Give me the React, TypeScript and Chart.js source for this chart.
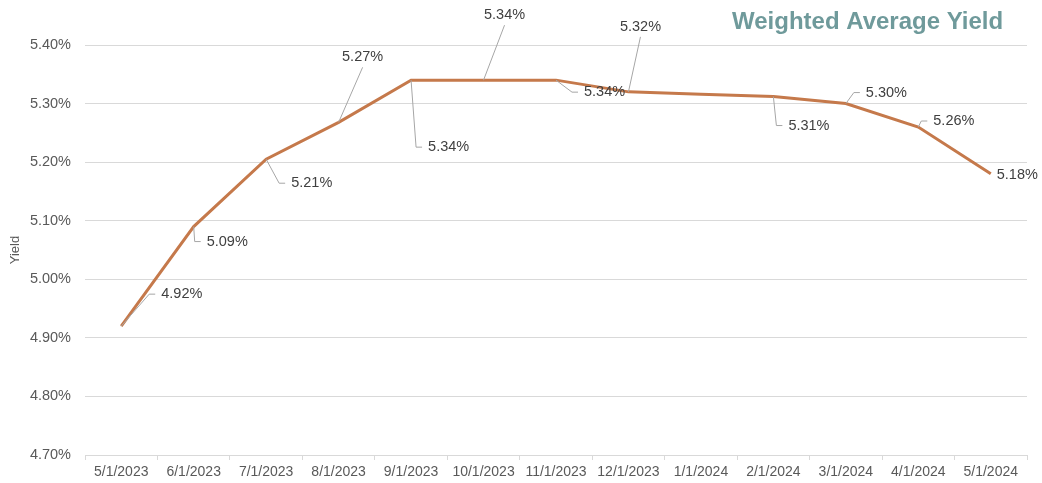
import React, { useEffect, useRef } from "react";
import { Chart, registerables } from "chart.js";

Chart.register(...registerables);

const categories = [
  "5/1/2023", "6/1/2023", "7/1/2023", "8/1/2023", "9/1/2023", "10/1/2023", "11/1/2023",
  "12/1/2023", "1/1/2024", "2/1/2024", "3/1/2024", "4/1/2024", "5/1/2024",
];
const yieldValues = [4.92, 5.09, 5.205, 5.268, 5.34, 5.34, 5.34, 5.32, 5.316, 5.312, 5.3, 5.26, 5.18];
const dataLabels = ["4.92%", "5.09%", "5.21%", "5.27%", "5.34%", "5.34%", "5.34%", "5.32%", "", "5.31%", "5.30%", "5.26%", "5.18%"];
const yTickMin = 4.7;
const yTickMax = 5.4;
const yTickStep = 0.1;
const chartTitle = "Weighted Average Yield";
const yAxisTitle = "Yield";

// label placement relative to each point: kind, dx, dy, leader
type LabelPlace = { kind: "left" | "top" | "none"; dx: number; dy: number; leader: boolean };
const labelPlacement: LabelPlace[] = [
  { kind: "left", dx: 40, dy: -32, leader: true },
  { kind: "left", dx: 13, dy: 15, leader: true },
  { kind: "left", dx: 25, dy: 24, leader: true },
  { kind: "top", dx: 24, dy: -65, leader: true },
  { kind: "left", dx: 17, dy: 67, leader: true },
  { kind: "top", dx: 21, dy: -65, leader: true },
  { kind: "left", dx: 28, dy: 12, leader: true },
  { kind: "top", dx: 12, dy: -65, leader: true },
  { kind: "none", dx: 0, dy: 0, leader: false },
  { kind: "left", dx: 15, dy: 29, leader: true },
  { kind: "left", dx: 20, dy: -11, leader: true },
  { kind: "left", dx: 15, dy: -6, leader: true },
  { kind: "left", dx: 6, dy: 1, leader: false },
];

const FONT = "'Liberation Sans', Arial, Helvetica, sans-serif";

const labelPlugin = {
  id: "leaderLabels",
  afterDatasetsDraw(chart: any) {
    const ctx = chart.ctx;
    const meta = chart.getDatasetMeta(0);
    ctx.save();
    ctx.font = `14.5px ${FONT}`;
    ctx.textBaseline = "middle";
    meta.data.forEach((pt: any, i: number) => {
      const place = labelPlacement[i];
      const text = dataLabels[i];
      if (!place || place.kind === "none" || !text) return;
      const px = pt.x;
      const py = pt.y;
      const tx = px + place.dx;
      const ty = py + place.dy;
      ctx.strokeStyle = "#a6a6a6";
      ctx.lineWidth = 1;
      if (place.kind === "left") {
        if (place.leader) {
          ctx.beginPath();
          ctx.moveTo(px, py);
          ctx.lineTo(tx - 12, ty);
          ctx.lineTo(tx - 6, ty);
          ctx.stroke();
        }
        ctx.fillStyle = "#404040";
        ctx.textAlign = "left";
        ctx.fillText(text, tx, ty);
      } else {
        if (place.leader) {
          ctx.beginPath();
          ctx.moveTo(px, py);
          ctx.lineTo(tx, ty + 10);
          ctx.stroke();
        }
        ctx.fillStyle = "#404040";
        ctx.textAlign = "center";
        ctx.fillText(text, tx, ty);
      }
    });
    ctx.restore();
  },
  afterDraw(chart: any) {
    const ctx = chart.ctx;
    ctx.save();
    ctx.font = `bold 24px ${FONT}`;
    ctx.fillStyle = "#6f9a9b";
    ctx.textAlign = "left";
    ctx.textBaseline = "alphabetic";
    ctx.fillText(chartTitle, 732, 29);
    ctx.restore();
  },
};

export default function App() {
  const canvasRef = useRef<HTMLCanvasElement | null>(null);

  useEffect(() => {
    document.body.style.margin = "0";
    const canvas = canvasRef.current;
    if (!canvas) return;
    const chart = new Chart(canvas, {
      type: "line",
      data: {
        labels: categories,
        datasets: [
          {
            label: yAxisTitle,
            data: yieldValues,
            borderColor: "#c5794b",
            backgroundColor: "#c5794b",
            borderWidth: 3,
            pointRadius: 0,
            pointHoverRadius: 0,
            tension: 0,
            fill: false,
          },
        ],
      },
      options: {
        animation: false,
        responsive: false,
        maintainAspectRatio: false,
        events: [],
        layout: { padding: { top: 45, right: 15, left: 0, bottom: 0 } },
        plugins: {
          legend: { display: false },
          tooltip: { enabled: false },
          title: { display: false },
        },
        scales: {
          x: {
            type: "category",
            offset: true,
            grid: {
              offset: true,
              drawOnChartArea: false,
              drawTicks: true,
              tickLength: 5,
              color: "#d9d9d9",
            },
            border: { display: true, color: "#d9d9d9", width: 1 },
            ticks: {
              autoSkip: false,
              maxRotation: 0,
              minRotation: 0,
              padding: 4,
              color: "#595959",
              font: { family: FONT, size: 14 },
            },
            afterFit(scale: any) {
              scale.height = 28;
            },
          },
          y: {
            min: yTickMin,
            max: yTickMax,
            grid: { color: "#d9d9d9", drawTicks: false, lineWidth: 1 },
            border: { display: false },
            ticks: {
              stepSize: yTickStep,
              padding: 14,
              color: "#595959",
              font: { family: FONT, size: 14.5 },
              callback: (v: any) => Number(v).toFixed(2) + "%",
            },
            title: {
              display: true,
              text: yAxisTitle,
              color: "#595959",
              font: { family: FONT, size: 13 },
              padding: { top: 8, bottom: 0 },
            },
            afterFit(scale: any) {
              scale.width = 85;
            },
          },
        },
      },
      plugins: [labelPlugin],
    });
    return () => chart.destroy();
  }, []);

  return (
    <div style={{ position: "absolute", left: 0, top: 0, width: 1042, height: 483 }}>
      <canvas ref={canvasRef} width={1042} height={483} style={{ width: 1042, height: 483, display: "block" }} />
    </div>
  );
}
